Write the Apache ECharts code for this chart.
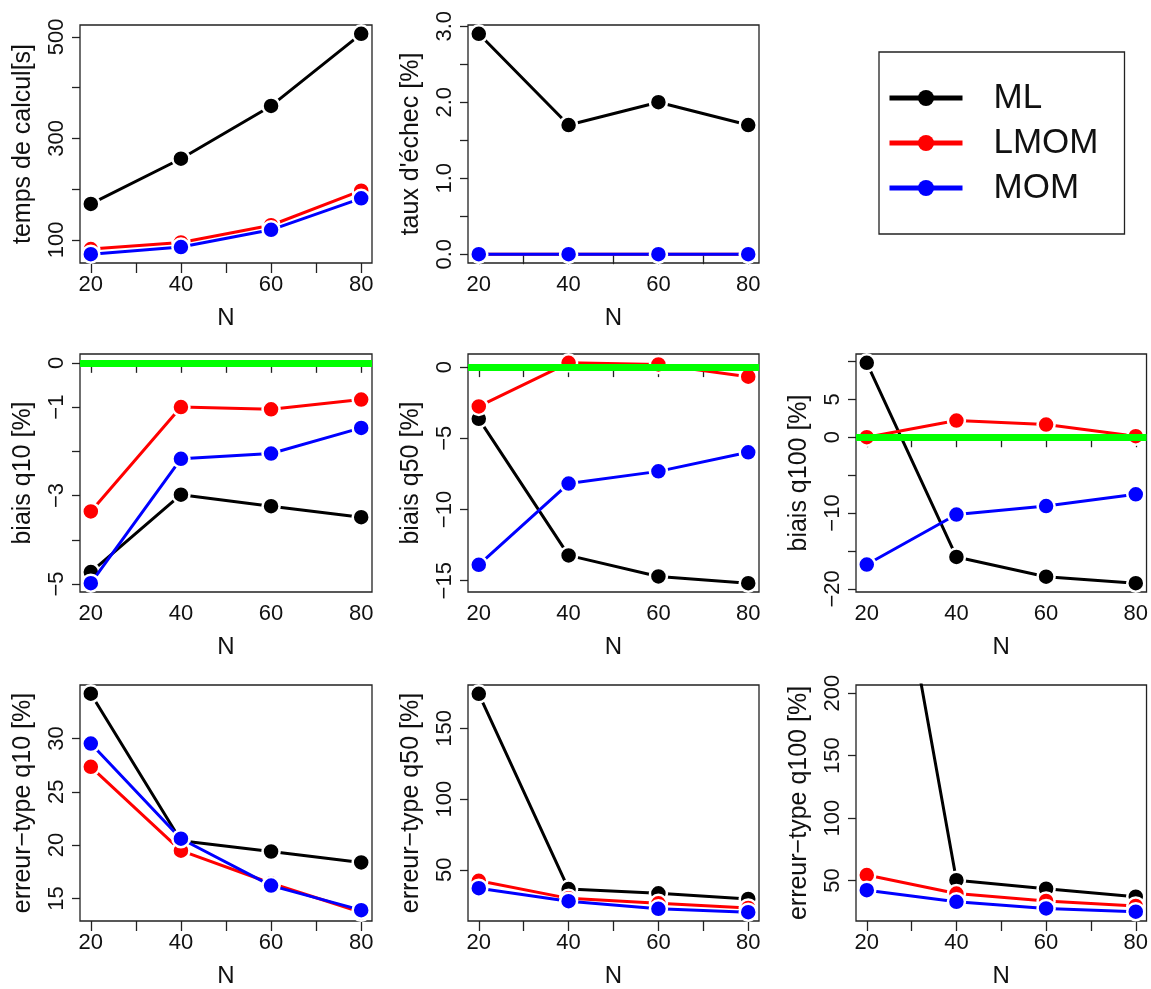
<!DOCTYPE html>
<html>
<head>
<meta charset="utf-8">
<script src="https://cdn.jsdelivr.net/npm/echarts@6/dist/echarts.min.js"></script>
<style>
html,body{margin:0;padding:0;background:#fff;}
#chart{width:1151px;height:989px;}
</style>
</head>
<body>
<div id="chart"></div>
<script>
// ---- data ----
const N = [20, 40, 60, 80];

const tempsML   = [171, 260, 364, 506];
const tempsLMOM = [82, 95, 129, 197];
const tempsMOM  = [72, 86, 120, 182];

const echecML   = [2.9, 1.7, 2.0, 1.7];
const echecLMOM = [0, 0, 0, 0];
const echecMOM  = [0, 0, 0, 0];

const bq10ML   = [-4.73, -2.98, -3.24, -3.49];
const bq10LMOM = [-3.36, -1.0, -1.05, -0.83];
const bq10MOM  = [-4.98, -2.17, -2.05, -1.47];

const bq50ML   = [-3.63, -13.22, -14.7, -15.17];
const bq50LMOM = [-2.76, 0.3, 0.19, -0.67];
const bq50MOM  = [-13.88, -8.18, -7.32, -5.98];

const bq100ML   = [9.82, -15.8, -18.4, -19.26];
const bq100LMOM = [0.0, 2.2, 1.67, 0.13];
const bq100MOM  = [-16.8, -10.2, -9.08, -7.53];

const eq10ML   = [34.2, 20.4, 19.4, 18.37];
const eq10LMOM = [27.34, 19.48, 16.42, 13.7];
const eq10MOM  = [29.53, 20.6, 16.2, 13.9];

const eq50ML   = [174.4, 36.4, 33.4, 29.4];
const eq50LMOM = [42.2, 29.8, 26.3, 23];
const eq50MOM  = [37, 27.8, 22.4, 20];

const eq100ML   = [450, 50.2, 43.4, 37];
const eq100LMOM = [54.3, 39.5, 33.6, 29.6];
const eq100MOM  = [42.2, 32.9, 27.6, 25];

const xTicks = [20, 30, 40, 50, 60, 70, 80];
const xLabels = [20, 40, 60, 80];
const methodNames = ['ML', 'LMOM', 'MOM'];
const methodColors = ['#000000', '#ff0000', '#0000ff'];

// ---- panels ----
const FONT = '"Liberation Sans", Arial, Helvetica, sans-serif';
const panels = [
  {ylab: 'temps de calcul[s]', data: [tempsML, tempsLMOM, tempsMOM], ymin: 54.6, ymax: 523.4,
   ticks: [100, 200, 300, 400, 500], labels: [100, 300, 500], dec: 0, zero: false, pos: [0, 0]},
  {ylab: "taux d'échec [%]", data: [echecML, echecLMOM, echecMOM], ymin: -0.116, ymax: 3.016,
   ticks: [0, 0.5, 1, 1.5, 2, 2.5, 3], labels: [0, 1, 2, 3], dec: 1, zero: false, pos: [1, 0]},
  {ylab: 'biais q10 [%]', data: [bq10ML, bq10LMOM, bq10MOM], ymin: -5.18, ymax: 0.2,
   ticks: [0, -1, -2, -3, -4, -5], labels: [0, -1, -3, -5], dec: 0, zero: true, pos: [0, 1]},
  {ylab: 'biais q50 [%]', data: [bq50ML, bq50LMOM, bq50MOM], ymin: -15.79, ymax: 0.92,
   ticks: [0, -5, -10, -15], labels: [0, -5, -10, -15], dec: 0, zero: true, pos: [1, 1]},
  {ylab: 'biais q100 [%]', data: [bq100ML, bq100LMOM, bq100MOM], ymin: -20.42, ymax: 10.98,
   ticks: [10, 5, 0, -5, -10, -15, -20], labels: [5, 0, -10, -20], dec: 0, zero: true, pos: [2, 1]},
  {ylab: 'erreur\u2212type q10 [%]', data: [eq10ML, eq10LMOM, eq10MOM], ymin: 12.88, ymax: 35.02,
   ticks: [15, 20, 25, 30], labels: [15, 20, 25, 30], dec: 0, zero: false, pos: [0, 2]},
  {ylab: 'erreur\u2212type q50 [%]', data: [eq50ML, eq50LMOM, eq50MOM], ymin: 13.8, ymax: 180.6,
   ticks: [50, 100, 150], labels: [50, 100, 150], dec: 0, zero: false, pos: [1, 2]},
  {ylab: 'erreur\u2212type q100 [%]', data: [eq100ML, eq100LMOM, eq100MOM], ymin: 17.5, ymax: 206.6,
   ticks: [50, 100, 150, 200], labels: [50, 100, 150, 200], dec: 0, zero: false, pos: [2, 2]}
];

const colLeft = [80, 468, 856];
const colWidth = [292, 291, 291];
const rowTop = [25, 354, 685];
const rowHeight = [238, 238, 237];

const grids = [], xAxes = [], yAxes = [], series = [];
panels.forEach((p, i) => {
  const c = p.pos[0], r = p.pos[1];
  grids.push({left: colLeft[c], top: rowTop[r], width: colWidth[c], height: rowHeight[r],
    show: true, borderColor: '#222', borderWidth: 1.3, backgroundColor: 'transparent', containLabel: false});
  xAxes.push({type: 'value', gridIndex: i, min: 17.6, max: 82.4,
    name: 'N', nameLocation: 'middle', nameGap: 43,
    nameTextStyle: {fontFamily: FONT, fontSize: 24, color: '#111'},
    axisLine: {show: false},
    axisTick: {show: true, inside: false, length: 10, customValues: xTicks, lineStyle: {color: '#222', width: 1.3}},
    axisLabel: {show: true, customValues: xLabels, margin: 11, fontFamily: FONT, fontSize: 22, color: '#111'},
    splitLine: {show: false}});
  yAxes.push({type: 'value', gridIndex: i, min: p.ymin, max: p.ymax,
    name: p.ylab, nameLocation: 'middle', nameGap: 44,
    nameTextStyle: {fontFamily: FONT, fontSize: 25, color: '#111'},
    axisLine: {show: false},
    axisTick: {show: true, inside: false, length: 8, customValues: p.ticks, lineStyle: {color: '#222', width: 1.3}},
    axisLabel: {show: true, customValues: p.labels, rotate: 90, margin: 12, fontFamily: FONT, fontSize: 22, color: '#111',
      formatter: v => (p.dec ? Number(v).toFixed(p.dec) : String(Math.round(v))).replace('-', '\u2212')},
    splitLine: {show: false}});
  p.data.forEach((vals, k) => {
    const s = {
      type: 'line', name: methodNames[k], xAxisIndex: i, yAxisIndex: i,
      data: N.map((n, j) => [n, vals[j]]),
      clip: true, symbol: 'circle', symbolSize: 17,
      lineStyle: {color: methodColors[k], width: 3},
      itemStyle: {color: methodColors[k], borderColor: '#fff', borderWidth: 2.5},
      z: 2 + k, silent: true
    };
    if (p.zero && k === 2) {
      s.markLine = {silent: true, symbol: ['none', 'none'], label: {show: false},
        lineStyle: {color: '#00ff00', width: 7, type: 'solid'},
        data: [{yAxis: 0}], animation: false};
    }
    series.push(s);
  });
});

const chart = echarts.init(document.getElementById('chart'), null, {renderer: 'canvas'});
chart.setOption({
  animation: false,
  backgroundColor: '#ffffff',
  grid: grids,
  xAxis: xAxes,
  yAxis: yAxes,
  series: series,
  legend: {
    data: methodNames,
    orient: 'vertical',
    left: 879, top: 52,
    width: 246,
    borderColor: '#222', borderWidth: 1.3,
    padding: [26, 26, 26, 8],
    itemWidth: 73, itemHeight: 20, itemGap: 5,
    itemStyle: {borderWidth: 0},
    lineStyle: {width: 5},
    textStyle: {fontFamily: FONT, fontSize: 35, color: '#111', lineHeight: 40, padding: [0, 0, 0, 26]},
    selectedMode: false
  }
});
</script>
</body>
</html>
